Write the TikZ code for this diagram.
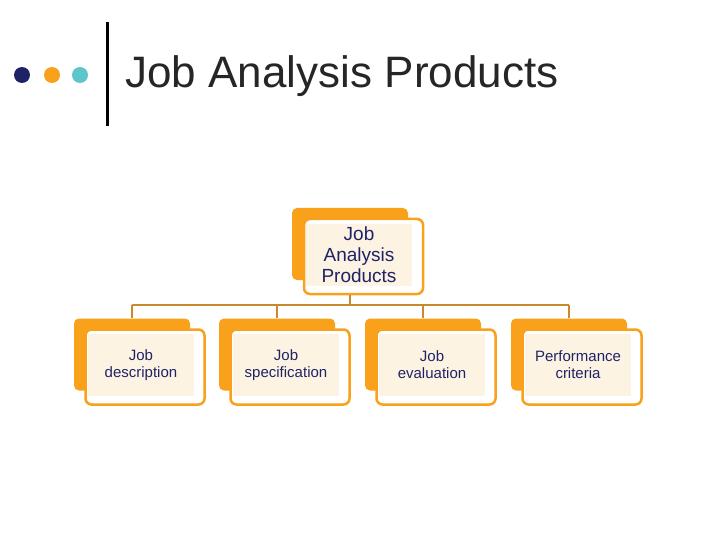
\documentclass[tikz,border=0pt]{standalone}
\usepackage{fontspec}
\setmainfont{Liberation Sans}
\usetikzlibrary{positioning}
\definecolor{boxorange}{HTML}{F9A11B}
\definecolor{linkbrown}{HTML}{C98A2E}
\definecolor{cream}{HTML}{FDF3E3}
\definecolor{navy}{HTML}{1F2366}
\definecolor{dotteal}{HTML}{5CC6CC}
\begin{document}
\begin{tikzpicture}[x=1pt,y=-1pt]
\tikzstyle{back}=[fill=boxorange,rounded corners=5pt,minimum width=116pt,minimum height=72pt,inner sep=0pt]
\tikzstyle{front}=[draw=boxorange,line width=2.5pt,fill=white,rounded corners=6pt,minimum width=119pt,minimum height=75pt,inner sep=0pt]
\tikzstyle{label}=[fill=cream,minimum width=106pt,minimum height=62pt,inner sep=0pt,align=center,text=navy,font=\fontsize{15}{17}\selectfont]
\tikzstyle{link}=[draw=linkbrown,line width=2pt]
\useasboundingbox (0,0) rectangle (720,540);

%TITLE
\fill[navy] (22,75) circle (8);
\fill[boxorange] (52,75) circle (8);
\fill[dotteal] (80,75) circle (8);
\draw[line width=3pt] (107,22) -- (107,126);
\node[anchor=west,font=\fontsize{44}{48}\selectfont,text=black!85] (title) at (122,76) {Job Analysis Products};

%TOP
\node[back] (topback) at (350,244) {};
\node[front] (topfront) at (363.5,256.5) {};
\node[label,font=\fontsize{19}{21}\selectfont] (top) at (359,255) {Job\\Analysis\\Products};

%CHILDREN
\foreach \name/\x/\txt in {desc/132/{Job\\description},spec/277/{Job\\specification},eval/423/{Job\\evaluation},perf/569/{Performance\\criteria}}{
  \node[back] (\name back) at (\x,354.5) {};
  \node[front] (\name front) at (\x+13,367) {};
  \node[label] (\name) at (\x+9,365) {\txt};
}

%LINKS
\coordinate (hub) at (350,305);
\draw[link] (topfront.south -| hub) -- (hub);
\draw[link] (hub -| descback) -- (hub -| perfback);
\foreach \name in {desc,spec,eval,perf}
  \draw[link] (hub -| \name back) -- (\name back.north);
\end{tikzpicture}
\end{document}
